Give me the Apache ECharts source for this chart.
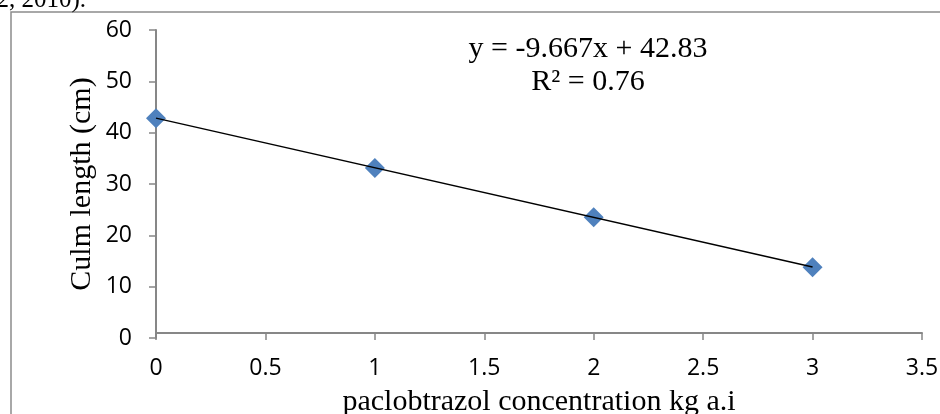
<!DOCTYPE html>
<html>
<head>
<meta charset="utf-8">
<style>html,body{margin:0;padding:0;background:#fff;overflow:hidden;}#c{width:940px;height:414px;}</style>
<script src="https://cdn.jsdelivr.net/npm/echarts@6/dist/echarts.min.js"></script>
</head>
<body>
<div id="c"></div>
<script>
var concentrations = [0, 1, 2, 3];
var culmLength = [42.8, 33.1, 23.5, 13.8];
var trendX = [0, 3];
var trendY = [42.83, 13.83];
var xTicks = ['0', '0.5', '1', '1.5', '2', '2.5', '3', '3.5'];
var equationText = 'y = -9.667x + 42.83';
var r2Text = 'R² = 0.76';

var chart = echarts.init(document.getElementById('c'), null, {renderer: 'canvas'});
var axisGray = '#878787';
var sans = '"Open Sans", "Noto Sans", sans-serif';
var serif = '"Liberation Serif", "DejaVu Serif", serif';

chart.setOption({
  animation: false,
  backgroundColor: '#fff',
  grid: {left: 156, top: 30, right: 18, bottom: 76, containLabel: false, outerBoundsMode: 'none'},
  graphic: [
    {type: 'rect', shape: {x: 11, y: 12, width: 940, height: 420}, style: {fill: 'none', stroke: '#8c8c8c', lineWidth: 1.5}, z: 0},
    {type: 'text', x: 86, y: 13, style: {text: '2, 2010).', fontSize: 25, fontFamily: serif, fill: '#000', align: 'right', verticalAlign: 'bottom'}},
    {type: 'text', x: 588, y: 49, style: {text: equationText, fontSize: 30, fontFamily: serif, fill: '#000', align: 'center', verticalAlign: 'middle'}},
    {type: 'text', x: 588, y: 82, style: {text: r2Text, fontSize: 30, fontFamily: serif, fill: '#000', align: 'center', verticalAlign: 'middle'}}
  ],
  xAxis: {
    type: 'value', min: 0, max: 3.5, interval: 0.5, offset: -5,
    name: 'paclobtrazol concentration kg a.i', nameLocation: 'middle', nameGap: 54, nameMoveOverlap: false,
    nameTextStyle: {fontFamily: serif, fontSize: 30, color: '#000'},
    axisLine: {show: true, onZero: false, lineStyle: {color: axisGray, width: 2}},
    axisTick: {show: true, length: 7, lineStyle: {color: axisGray, width: 1.5}},
    axisLabel: {margin: 24, fontFamily: sans, fontSize: 23, color: '#000',
      formatter: function (v) { return xTicks[Math.round(v / 0.5)]; }},
    splitLine: {show: false}
  },
  yAxis: {
    type: 'value', min: 0, max: 60, interval: 10,
    name: 'Culm length (cm)', nameLocation: 'middle', nameGap: 59, nameRotate: 90, nameMoveOverlap: false,
    nameTextStyle: {fontFamily: serif, fontSize: 30, color: '#000'},
    axisLine: {show: true, onZero: false, lineStyle: {color: axisGray, width: 2}},
    axisTick: {show: true, length: 7, lineStyle: {color: axisGray, width: 1.5}},
    axisLabel: {margin: 24, fontFamily: sans, fontSize: 23, color: '#000'},
    splitLine: {show: false}
  },
  series: [
    {
      type: 'line', data: trendX.map(function (x, i) { return [x, trendY[i]]; }),
      showSymbol: false, symbol: 'none', lineStyle: {color: '#000', width: 1.5}, z: 3, silent: true
    },
    {
      type: 'scatter', data: concentrations.map(function (x, i) { return [x, culmLength[i]]; }),
      symbol: 'diamond', symbolSize: 20, itemStyle: {color: '#4F81BD', opacity: 1}, z: 2
    }
  ]
});
</script>
</body>
</html>
